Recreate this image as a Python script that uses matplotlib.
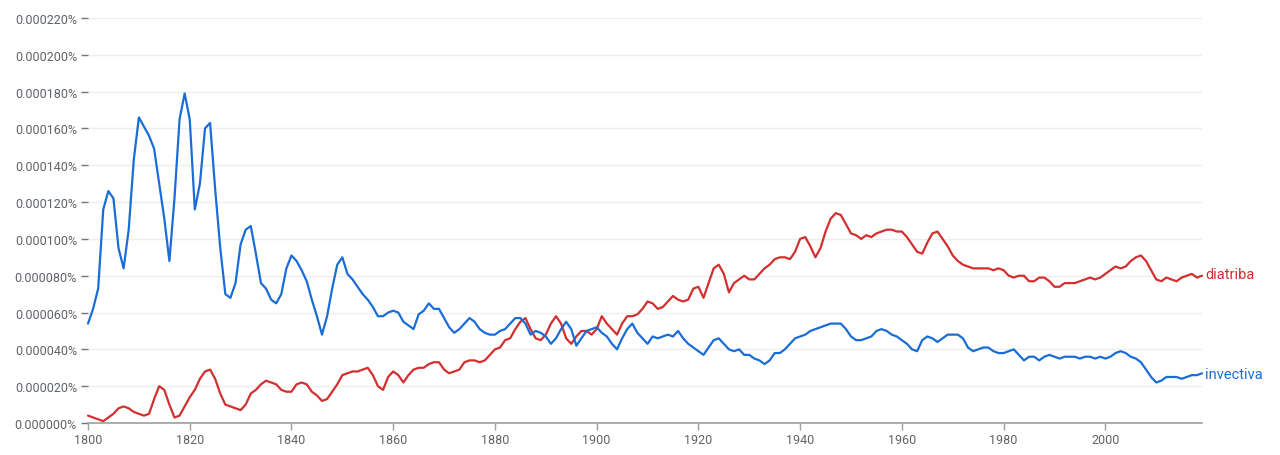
import matplotlib
matplotlib.use("Agg")
import matplotlib.pyplot as plt
from matplotlib.ticker import FuncFormatter, MultipleLocator
import numpy as np

years = list(range(1800, 2020))

# values in units of 0.000001 %
invectiva = [
    54, 62, 73, 116, 126, 122, 95, 84, 105, 143,
    166, 161, 156, 149, 130, 111, 88, 122, 165, 179,
    165, 116, 130, 160, 163, 127, 95, 70, 68, 76,
    97, 105, 107, 92, 76, 73, 67, 65, 70, 84,
    91, 88, 83, 77, 67, 58, 48, 58, 73, 86,
    90, 81, 78, 74, 70, 67, 63, 58, 58, 60,
    61, 60, 55, 53, 51, 59, 61, 65, 62, 62,
    57, 52, 49, 51, 54, 57, 55, 51, 49, 48,
    48, 50, 51, 54, 57, 57, 54, 48, 50, 49,
    47, 43, 46, 51, 55, 51, 42, 46, 50, 51,
    52, 49, 47, 43, 40, 46, 51, 54, 49, 46,
    43, 47, 46, 47, 48, 47, 50, 46, 43, 41,
    39, 37, 41, 45, 46, 43, 40, 39, 40, 37,
    37, 35, 34, 32, 34, 38, 38, 40, 43, 46,
    47, 48, 50, 51, 52, 53, 54, 54, 54, 51,
    47, 45, 45, 46, 47, 50, 51, 50, 48, 47,
    45, 43, 40, 39, 45, 47, 46, 44, 46, 48,
    48, 48, 46, 41, 39, 40, 41, 41, 39, 38,
    38, 39, 40, 37, 34, 36, 36, 34, 36, 37,
    36, 35, 36, 36, 36, 35, 36, 36, 35, 36,
    35, 36, 38, 39, 38, 36, 35, 33, 29, 25,
    22, 23, 25, 25, 25, 24, 25, 26, 26, 27,
]

diatriba = [
    4, 3, 2, 1, 3, 5, 8, 9, 8, 6,
    5, 4, 5, 13, 20, 18, 10, 3, 4, 9,
    14, 18, 24, 28, 29, 24, 16, 10, 9, 8,
    7, 10, 16, 18, 21, 23, 22, 21, 18, 17,
    17, 21, 22, 21, 17, 15, 12, 13, 17, 21,
    26, 27, 28, 28, 29, 30, 26, 20, 18, 25,
    28, 26, 22, 26, 29, 30, 30, 32, 33, 33,
    29, 27, 28, 29, 33, 34, 34, 33, 34, 37,
    40, 41, 45, 46, 51, 55, 57, 51, 46, 45,
    48, 54, 58, 54, 46, 43, 47, 50, 50, 48,
    51, 58, 54, 51, 48, 54, 58, 58, 59, 62,
    66, 65, 62, 63, 66, 69, 67, 66, 67, 73,
    74, 68, 76, 84, 86, 81, 71, 76, 78, 80,
    78, 78, 81, 84, 86, 89, 90, 90, 89, 93,
    100, 101, 96, 90, 95, 104, 111, 114, 113, 108,
    103, 102, 100, 102, 101, 103, 104, 105, 105, 104,
    104, 101, 97, 93, 92, 98, 103, 104, 100, 96,
    91, 88, 86, 85, 84, 84, 84, 84, 83, 84,
    83, 80, 79, 80, 80, 77, 77, 79, 79, 77,
    74, 74, 76, 76, 76, 77, 78, 79, 78, 79,
    81, 83, 85, 84, 85, 88, 90, 91, 88, 83,
    78, 77, 79, 78, 77, 79, 80, 81, 79, 80,
]

series_names = ["diatriba", "invectiva"]
series_colors = ["#d32f2f", "#1a6dd6"]

W, H = 1280, 456
fig = plt.figure(figsize=(W / 100, H / 100), dpi=100)
left, right, top, bottom = 88, 1202, 19, 424
ax = fig.add_axes([left / W, 1 - bottom / H, (right - left) / W, (bottom - top) / H])

scale = 1e-6
ax.plot(years, np.array(diatriba) * scale, color=series_colors[0], lw=1.6,
        solid_joinstyle="round", solid_capstyle="round", clip_on=False)
ax.plot(years, np.array(invectiva) * scale, color=series_colors[1], lw=1.6,
        solid_joinstyle="round", solid_capstyle="round", clip_on=False)

ax.set_xlim(1800, 2019)
ax.set_ylim(0, 0.00022)

font = "Roboto"
tick_color = "#5f6368"

ax.yaxis.set_major_locator(MultipleLocator(0.00002))
ax.yaxis.set_major_formatter(FuncFormatter(lambda v, p: f"{v:.6f}%"))
ax.xaxis.set_major_locator(MultipleLocator(20))

for s in ["top", "right", "left"]:
    ax.spines[s].set_visible(False)
ax.spines["bottom"].set_color("#9e9e9e")
ax.spines["bottom"].set_linewidth(1.2)

ax.grid(axis="y", color="#eeeeee", lw=1)
ax.set_axisbelow(True)

ax.tick_params(axis="y", length=5, width=1, color="#757575", pad=3,
               labelsize=9, labelcolor=tick_color)
ax.tick_params(axis="x", length=5, width=1, color="#9e9e9e", pad=2,
               labelsize=9, labelcolor=tick_color)
for lab in ax.get_xticklabels() + ax.get_yticklabels():
    lab.set_fontfamily(font)

ax.text(2019.6, diatriba[-1] * scale + 1.0e-6, series_names[0], color=series_colors[0],
        fontsize=10.5, fontfamily=font, va="center", ha="left")
ax.text(2019.6, invectiva[-1] * scale - 0.3e-6, series_names[1], color=series_colors[1],
        fontsize=10.5, fontfamily=font, va="center", ha="left")

fig.savefig("out.png", dpi=100, facecolor="white")
